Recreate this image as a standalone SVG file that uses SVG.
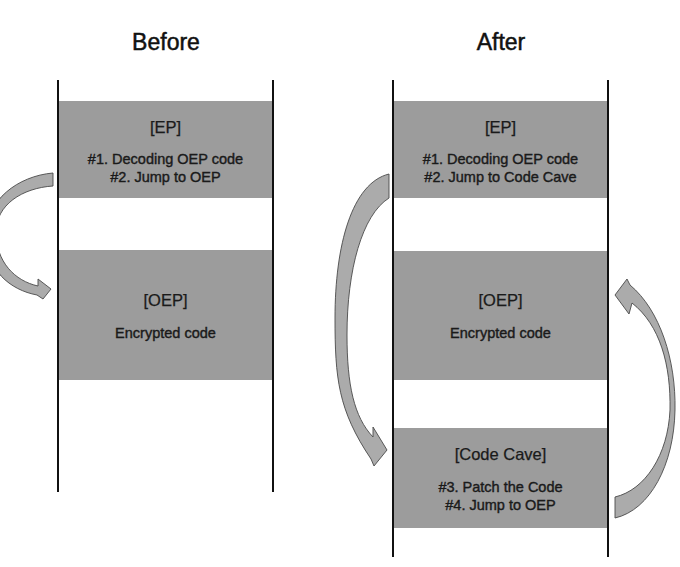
<svg xmlns="http://www.w3.org/2000/svg" width="680" height="567" viewBox="0 0 680 567">
<style>
.bg{fill:#ffffff}
.box{fill:#9c9c9c}
.wall{stroke:#111;stroke-width:2;fill:none}
.title{font-family:"Liberation Sans",Arial,sans-serif;font-size:23px;fill:#111;stroke:#111;stroke-width:0.5;text-anchor:middle}
.head{font-family:"Liberation Sans",Arial,sans-serif;font-size:16.5px;fill:#1a1a1a;stroke:#1a1a1a;stroke-width:0.25;text-anchor:middle}
.body{font-family:"Liberation Sans",Arial,sans-serif;font-size:14.5px;fill:#1a1a1a;stroke:#1a1a1a;stroke-width:0.4;text-anchor:middle}
.arrow{fill:#ababab;stroke:#4a4a4a;stroke-width:0.9;stroke-linejoin:miter}
</style>
<rect class="bg" x="0" y="0" width="680" height="567"/>
<text class="title" x="166" y="50">Before</text>
<text class="title" x="501" y="50">After</text>

<g id="before-ep">
<rect class="box" x="58" y="101" width="215" height="97"/>
<text class="head" x="165.5" y="133">[EP]</text>
<text class="body" x="165.5" y="164">#1. Decoding OEP code</text>
<text class="body" x="165.5" y="182">#2. Jump to OEP</text>
</g>
<g id="before-oep">
<rect class="box" x="58" y="250" width="215" height="130"/>
<text class="head" x="165.5" y="306">[OEP]</text>
<text class="body" x="165.5" y="338">Encrypted code</text>
</g>
<g id="before-walls">
<line class="wall" x1="58" y1="80" x2="58" y2="492"/>
<line class="wall" x1="273" y1="80" x2="273" y2="492"/>
</g>

<g id="after-ep">
<rect class="box" x="393" y="101" width="215" height="97"/>
<text class="head" x="500.5" y="133">[EP]</text>
<text class="body" x="500.5" y="164">#1. Decoding OEP code</text>
<text class="body" x="500.5" y="182">#2. Jump to Code Cave</text>
</g>
<g id="after-oep">
<rect class="box" x="393" y="251" width="215" height="129"/>
<text class="head" x="500.5" y="306">[OEP]</text>
<text class="body" x="500.5" y="338">Encrypted code</text>
</g>
<g id="after-cave">
<rect class="box" x="393" y="428" width="215" height="100"/>
<text class="head" x="500.5" y="460">[Code Cave]</text>
<text class="body" x="500.5" y="492">#3. Patch the Code</text>
<text class="body" x="500.5" y="510">#4. Jump to OEP</text>
</g>
<g id="after-walls">
<line class="wall" x1="393" y1="80" x2="393" y2="557"/>
<line class="wall" x1="608" y1="80" x2="608" y2="557"/>
</g>

<g id="connectors">
<path class="arrow" d="M53,173 C18,176 -14,200 -14,235 C-14,270 10,290 37,295 L43,299 L51,289 L38,279 L38,286 C15,281 -4,262 -4,232 C-4,205 22,188 53,186 Z"/>
<path class="arrow" d="M389,174 C352,183 335,245 335,318 C335,378 338,410 371,459 L374,466 L387,450 L373,427 L373,437 C354,417 347,385 347,335 C347,270 362,215 389,198 Z"/>
<path class="arrow" d="M615,518 C650,510 674,465 675,410 C676,360 660,310 630,285 L627,279 L615,295 L629,314 L632,303 C660,325 671,365 670,410 C668,455 645,490 615,497 Z"/>
</g>
</svg>
